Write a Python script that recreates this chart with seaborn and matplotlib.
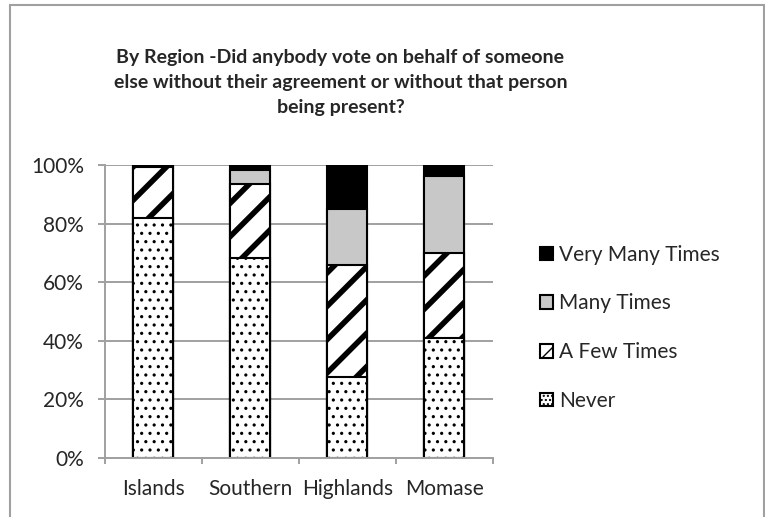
import matplotlib
matplotlib.use("Agg")
import matplotlib.pyplot as plt
import seaborn as sns
import numpy as np
import pandas as pd
from matplotlib.patches import Patch, Rectangle

regions = ["Islands", "Southern", "Highlands", "Momase"]
never = [81.8, 68.4, 27.7, 41.1]
a_few = [17.4, 25.0, 38.2, 29.0]
many = [0.0, 4.9, 19.1, 26.2]
very_many = [0.8, 1.7, 15.0, 3.7]
series_names = ["Never", "A Few Times", "Many Times", "Very Many Times"]
y_ticks = [0, 20, 40, 60, 80, 100]
title = ("By Region -Did anybody vote on behalf of someone\n"
         "else without their agreement or without that person\n"
         "being present?")

sns.set_theme(style="white")
plt.rcParams["font.family"] = ["Lato", "DejaVu Sans"]
plt.rcParams["hatch.color"] = "black"
plt.rcParams["hatch.linewidth"] = 1.0

fig = plt.figure(figsize=(7.65, 5.17), dpi=100)
ax = fig.add_axes([0.137, 0.114, 0.507, 0.567])

layers = [never, a_few, many, very_many]
cum = np.cumsum(np.array(layers), axis=0)
styles = [
    dict(color="white", hatch="..", hlw=1.1),
    dict(color="white", hatch="/", hlw=4.0),
    dict(color="#C8C8C8", hatch=None, hlw=1.0),
    dict(color="black", hatch=None, hlw=1.0),
]

for i in range(3, -1, -1):
    df = pd.DataFrame({"region": regions, "value": cum[i]})
    before = len(ax.patches)
    sns.barplot(data=df, x="region", y="value", ax=ax, color=styles[i]["color"],
                width=0.41, edgecolor="black", linewidth=1.5, saturation=1)
    for p in ax.patches[before:]:
        p.set_facecolor(styles[i]["color"])
        if styles[i]["hatch"]:
            p.set_hatch(styles[i]["hatch"])
            try:
                p.set_hatch_linewidth(styles[i]["hlw"])
            except Exception:
                pass

ax.set_ylim(0, 100)
ax.set_xlim(-0.5, 3.5)
ax.set_yticks(y_ticks)
ax.set_yticklabels([f"{v}%" for v in y_ticks], fontsize=15)
ax.yaxis.grid(True, color="#A0A0A0", linewidth=1.4)
ax.set_axisbelow(True)
ax.set_xlabel("")
ax.set_ylabel("")
ax.set_xticks([0, 1, 2, 3])
ax.set_xticks([-0.5, 0.5, 1.5, 2.5, 3.5], minor=True)
ax.tick_params(axis="x", which="major", labelsize=15, length=0, pad=15)
ax.tick_params(axis="x", which="minor", bottom=True, length=4.5, color="#A0A0A0", width=1.4)
ax.tick_params(axis="y", left=True, length=5, color="#A0A0A0", width=1.4, pad=10)
for s in ["top", "right"]:
    ax.spines[s].set_visible(False)
for s in ["left", "bottom"]:
    ax.spines[s].set_color("#A0A0A0")
    ax.spines[s].set_linewidth(1.4)

handles = []
for i in range(3, -1, -1):
    h = Patch(facecolor=styles[i]["color"], edgecolor="black", linewidth=1.5,
              hatch=(styles[i]["hatch"] * 2 if styles[i]["hatch"] else None),
              label=series_names[i])
    handles.append(h)
leg = fig.legend(handles=handles, loc="center left", bbox_to_anchor=(0.706, 0.366),
                 frameon=False, fontsize=15, handlelength=0.62, handleheight=0.62,
                 handletextpad=0.3, labelspacing=1.38, borderpad=0, borderaxespad=0)

fig.text(0.445, 0.841, title, ha="center", va="center", fontsize=14,
         fontweight="bold", linespacing=1.58)

fig.patches.append(Rectangle((10 / 765, -0.05), (764 - 10) / 765, 1.05 - 5 / 517,
                             transform=fig.transFigure, fill=False,
                             edgecolor="#A0A0A0", linewidth=1.5))

fig.savefig("out.png", dpi=100)
